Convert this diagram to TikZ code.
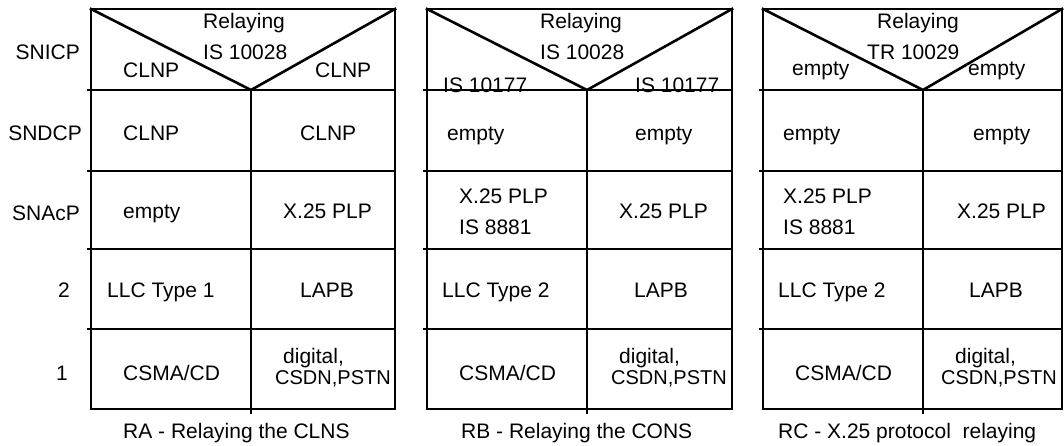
\documentclass[tikz,border=0pt]{standalone}
\usepackage{fontspec}
\setmainfont{Liberation Sans}
\begin{document}
\begin{tikzpicture}[x=1pt,y=-1pt,
  grid/.style={line width=2.6pt, line cap=rect},
  txt/.style={anchor=base west, inner sep=0pt, font=\fontsize{21}{25}\selectfont},
  small/.style={txt, font=\fontsize{20}{24}\selectfont},
  lbl/.style={anchor=base east, inner sep=0pt, font=\fontsize{21}{25}\selectfont}]
\useasboundingbox (0,0) rectangle (1064,445);

% three protocol tables: left edge, divider, right edge
\foreach \L/\D/\R in {91/251/395, 427/587/732, 763/923/1062}{
  \draw[grid] (\L,9) rectangle (\R,409);
  \foreach \y in {90,171,249,329}
    \draw[grid] (\L-3,\y) -- (\R,\y);
  \draw[grid] (\D,90) -- (\D,413);
  \draw[grid, line join=miter] (\L,9) -- (\D,90) -- (\R,9);
}

% layer names
\node[lbl] (snicp) at (80,59) {SNICP};
\node[lbl] (sndcp) at (82,140) {SNDCP};
\node[lbl] (snacp) at (80,220) {SNAcP};
\node[lbl] (l2) at (70,297) {2};
\node[lbl] (l1) at (68,380) {1};

% RA table
\node[txt] (a-rel) at (203,28) {Relaying};
\node[txt] (a-is) at (203,59) {IS 10028};
\node[txt] (a-1l) at (123,77) {CLNP};
\node[txt] (a-1r) at (315,77) {CLNP};
\node[txt] (a-2l) at (123,140) {CLNP};
\node[txt] (a-2r) at (300,140) {CLNP};
\node[txt] (a-3l) at (123,218) {empty};
\node[txt] (a-3r) at (283,218) {X.25 PLP};
\node[txt] (a-4l) at (107,297) {LLC Type 1};
\node[txt] (a-4r) at (300,297) {LAPB};
\node[txt] (a-5l) at (123,380) {CSMA/CD};
\node[txt] (a-5r) at (283,363) {digital,};
\node[small] (a-5s) at (275,384) {CSDN,PSTN};
\node[txt] (a-cap) at (123,438) {RA - Relaying the CLNS};

% RB table
\node[txt] (b-rel) at (540,28) {Relaying};
\node[txt] (b-is) at (540,59) {IS 10028};
\node[txt] (b-1l) at (443,92) {IS 10177};
\node[txt] (b-1r) at (635,92) {IS 10177};
\node[txt] (b-2l) at (447,140) {empty};
\node[txt] (b-2r) at (635,140) {empty};
\node[txt] (b-3l) at (459,203) {X.25 PLP};
\node[txt] (b-3m) at (459,234) {IS 8881};
\node[txt] (b-3r) at (619,218) {X.25 PLP};
\node[txt] (b-4l) at (442,297) {LLC Type 2};
\node[txt] (b-4r) at (634,297) {LAPB};
\node[txt] (b-5l) at (459,380) {CSMA/CD};
\node[txt] (b-5r) at (619,363) {digital,};
\node[small] (b-5s) at (611,384) {CSDN,PSTN};
\node[txt] (b-cap) at (461,438) {RB - Relaying the CONS};

% RC table
\node[txt] (c-rel) at (877,28) {Relaying};
\node[txt] (c-tr) at (867,59) {TR 10029};
\node[txt] (c-1l) at (792,75) {empty};
\node[txt] (c-1r) at (968,75) {empty};
\node[txt] (c-2l) at (783,140) {empty};
\node[txt] (c-2r) at (973,140) {empty};
\node[txt] (c-3l) at (783,203) {X.25 PLP};
\node[txt] (c-3m) at (783,234) {IS 8881};
\node[txt] (c-3r) at (957,218) {X.25 PLP};
\node[txt] (c-4l) at (778,297) {LLC Type 2};
\node[txt] (c-4r) at (969,297) {LAPB};
\node[txt] (c-5l) at (795,380) {CSMA/CD};
\node[txt] (c-5r) at (955,363) {digital,};
\node[small] (c-5s) at (941,384) {CSDN,PSTN};
\node[txt] (c-cap) at (778,438) {RC - X.25 protocol\ \ relaying};
\end{tikzpicture}
\end{document}
